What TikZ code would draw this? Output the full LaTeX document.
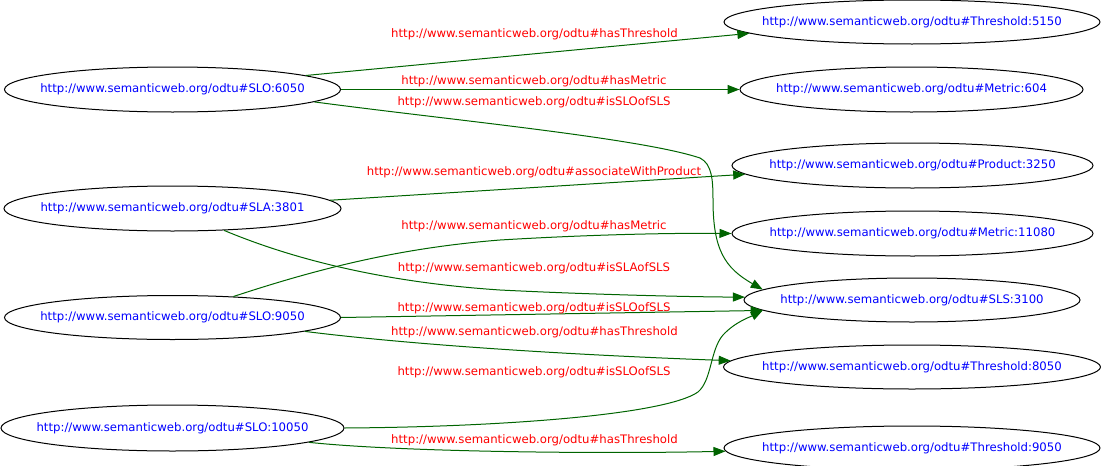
\documentclass[tikz,border=0pt]{standalone}
\usepackage{fontspec}
\setmainfont{DejaVu Sans}
\usetikzlibrary{shapes.geometric,arrows.meta}
\definecolor{edgegreen}{HTML}{006400}
\newcommand\uri[1]{\makebox[0pt]{#1}}
\begin{document}
\begin{tikzpicture}[x=1pt,y=-1pt,
  res/.style={ellipse, draw=black, line width=1pt, inner sep=0pt,
    text=blue, font=\fontsize{11.7}{13}\selectfont},
  rel/.style={draw=edgegreen, line width=1pt,
    -{Triangle[length=12pt,width=9pt]}},
  lbl/.style={text=red, inner sep=0pt, font=\fontsize{11.7}{13}\selectfont}]
\useasboundingbox (0,0) rectangle (1101,466);

% subject resources
\node[res, minimum width=336pt, minimum height=45pt] (slo6050) at (172.5,89.5)
  {\uri{http://www.semanticweb.org/odtu\#SLO:6050}};
\node[res, minimum width=337pt, minimum height=45pt] (sla3801) at (172.5,208.5)
  {\uri{http://www.semanticweb.org/odtu\#SLA:3801}};
\node[res, minimum width=336pt, minimum height=44pt] (slo9050) at (172.5,317.5)
  {\uri{http://www.semanticweb.org/odtu\#SLO:9050}};
\node[res, minimum width=343pt, minimum height=46pt] (slo10050) at (172.5,428)
  {\uri{http://www.semanticweb.org/odtu\#SLO:10050}};

% object resources
\node[res, minimum width=376pt, minimum height=44pt] (th5150) at (912,22)
  {\uri{http://www.semanticweb.org/odtu\#Threshold:5150}};
\node[res, minimum width=343pt, minimum height=45pt] (met604) at (911.5,89.5)
  {\uri{http://www.semanticweb.org/odtu\#Metric:604}};
\node[res, minimum width=361pt, minimum height=45pt] (prod3250) at (912.5,165.5)
  {\uri{http://www.semanticweb.org/odtu\#Product:3250}};
\node[res, minimum width=361pt, minimum height=45pt] (met11080) at (912.5,233.5)
  {\uri{http://www.semanticweb.org/odtu\#Metric:11080}};
\node[res, minimum width=336pt, minimum height=44pt] (sls3100) at (912,300)
  {\uri{http://www.semanticweb.org/odtu\#SLS:3100}};
\node[res, minimum width=377pt, minimum height=44pt] (th8050) at (912,367)
  {\uri{http://www.semanticweb.org/odtu\#Threshold:8050}};
\node[res, minimum width=376pt, minimum height=44pt] (th9050) at (912,448)
  {\uri{http://www.semanticweb.org/odtu\#Threshold:9050}};

% property edges
\draw[rel] (slo6050.6.4) -- (th5150.184.9);
\draw[rel] (slo6050.east) -- (met604.west);
\draw[rel] (slo6050.-5.7) .. controls (450,120) and (640,138) .. (700,158)
  .. controls (712,164) and (713,180) .. (713,200)
  .. controls (713,250) and (725,268) .. (sls3100.176.3);
\draw[rel] (sla3801.3.45) -- (prod3250.183.3);
\draw[rel] (sla3801.-23.5) .. controls (290,258) and (380,282) .. (500,290)
  .. controls (600,295) and (700,297) .. (sls3100.179);
\draw[rel] (slo9050.19) .. controls (320,268) and (400,248) .. (500,240)
  .. controls (600,234) and (680,233) .. (met11080.west);
\draw[rel] (slo9050.-0.9) -- (sls3100.184.8);
\draw[rel] (slo9050.-6.9) .. controls (430,347) and (600,356) .. (th8050.178.4);
\draw[rel] (slo10050.east) .. controls (500,427) and (665,415) .. (698,392)
  .. controls (712,380) and (710,350) .. (723,335)
  .. controls (735,322) and (750,317) .. (sls3100.184.4);
\draw[rel] (slo10050.-6.3) .. controls (400,452) and (600,454) .. (th9050.181.6);

% property labels
\node[lbl] (l1) at (534.5,34) {http://www.semanticweb.org/odtu\#hasThreshold};
\node[lbl] (l2) at (534,81.5) {http://www.semanticweb.org/odtu\#hasMetric};
\node[lbl] (l3) at (534,102.5) {http://www.semanticweb.org/odtu\#isSLOofSLS};
\node[lbl] (l4) at (534,172) {http://www.semanticweb.org/odtu\#associateWithProduct};
\node[lbl] (l5) at (534,268.5) {http://www.semanticweb.org/odtu\#isSLAofSLS};
\node[lbl] (l6) at (534,226.5) {http://www.semanticweb.org/odtu\#hasMetric};
\node[lbl] (l7) at (534,308.5) {http://www.semanticweb.org/odtu\#isSLOofSLS};
\node[lbl] (l8) at (534.5,332.5) {http://www.semanticweb.org/odtu\#hasThreshold};
\node[lbl] (l9) at (534,372.5) {http://www.semanticweb.org/odtu\#isSLOofSLS};
\node[lbl] (l10) at (534.5,440) {http://www.semanticweb.org/odtu\#hasThreshold};
\end{tikzpicture}
\end{document}
